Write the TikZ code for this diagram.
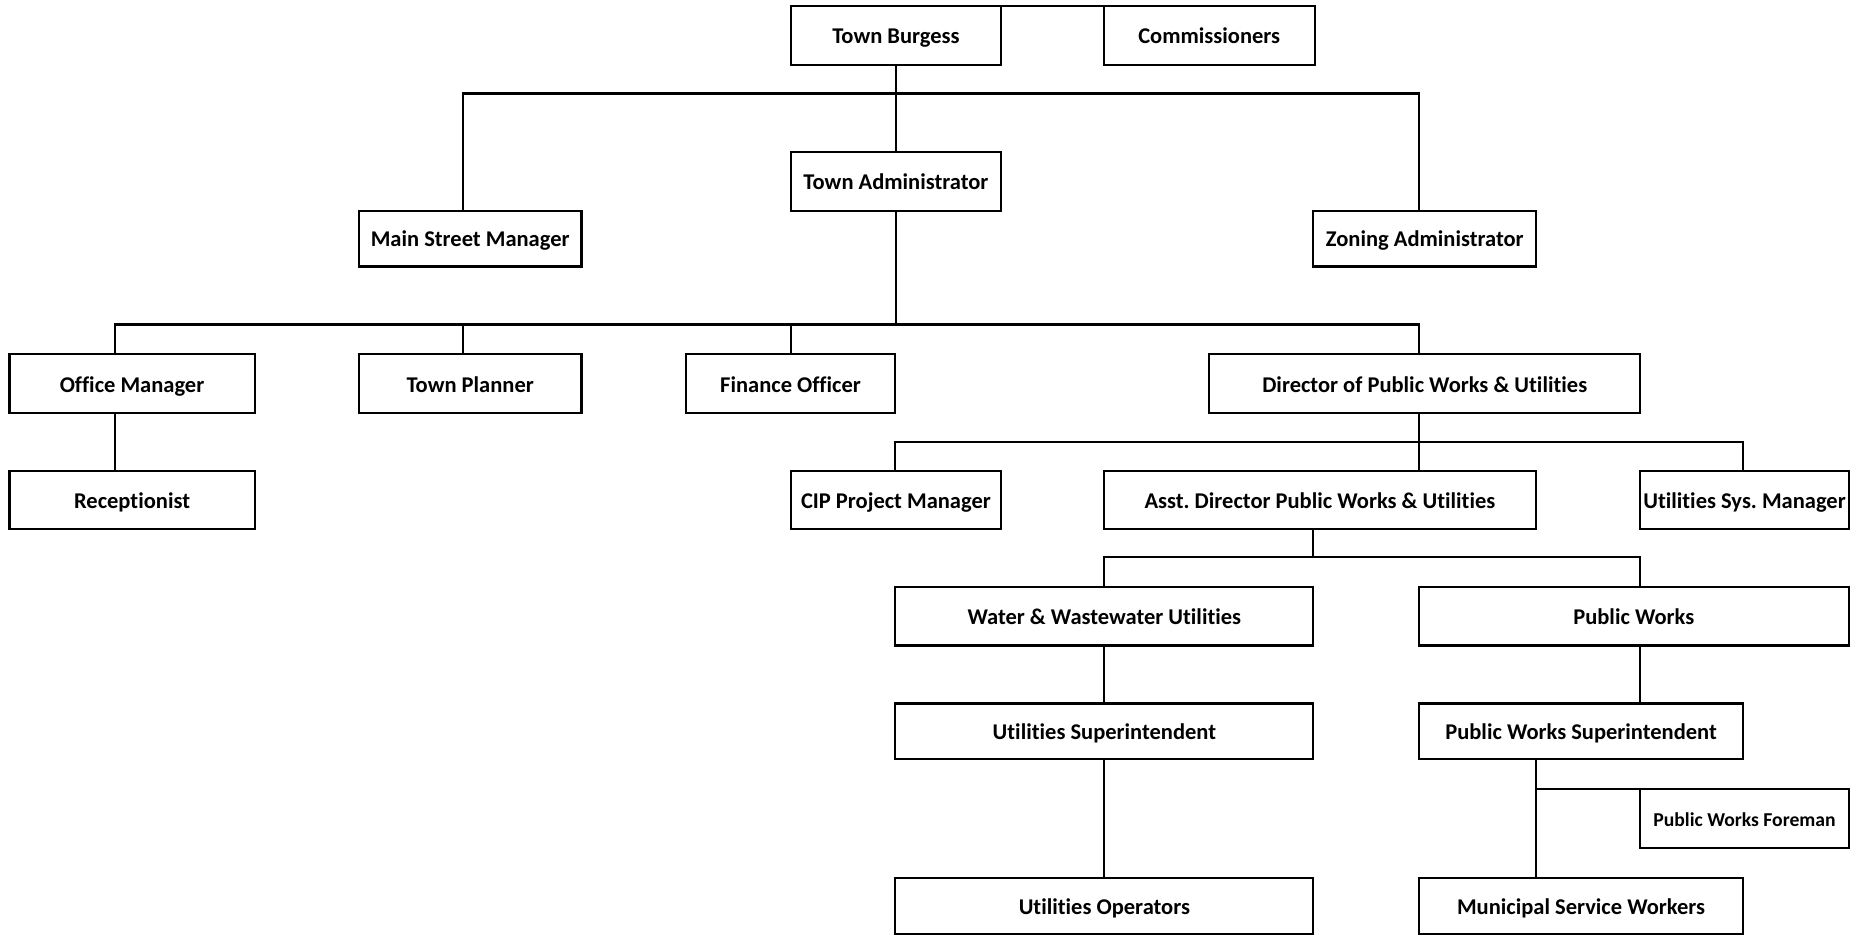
\documentclass[tikz,border=0pt]{standalone}
\usepackage{fontspec}
\setmainfont{Carlito}[Ligatures=NoCommon]
\usepackage{tikz}
\colorlet{rule}{black}
\frenchspacing

\begin{document}
\begin{tikzpicture}[x=0.5pt,y=-0.5pt,line width=0.9pt,line cap=rect,
  post/.style={draw=rule,inner sep=0pt,outer sep=0pt,minimum height=24.5pt,
    text height=8pt,text depth=1pt,
    font=\fontsize{9.5}{11}\selectfont\bfseries},
  low/.style={minimum height=23.5pt}]
\useasboundingbox (0,0) rectangle (1568,791);
% board
\node[post,minimum width=88.5pt,minimum height=25pt] (tb) at (756.5,30) {Town Burgess};
\node[post,minimum width=89pt,minimum height=25pt] (comm) at (1021,30) {Commissioners};
\node[post,minimum width=88.5pt,minimum height=25pt] (ta) at (756.5,153) {Town Administrator};
\node[post,low,minimum width=94pt] (msm) at (397,201.5) {Main Street Manager};
\node[post,low,minimum width=94pt] (za) at (1203,201.5) {Zoning Administrator};
% staff
\node[post,minimum width=103.5pt,minimum height=25pt] (om) at (111.5,324) {Office Manager};
\node[post,minimum width=94pt,minimum height=25pt] (tp) at (397,324) {Town Planner};
\node[post,minimum width=88.5pt,minimum height=25pt] (fo) at (667.5,324) {Finance Officer};
\node[post,minimum width=182pt,minimum height=25pt] (dir) at (1203,324) {Director of Public Works \& Utilities};
\node[post,minimum width=103.5pt] (rec) at (111.5,422.5) {Receptionist};
\node[post,minimum width=88.5pt] (cip) at (756.5,422.5) {CIP Project Manager};
\node[post,minimum width=182.5pt] (asst) at (1114.5,422.5) {Asst. Director Public Works \& Utilities};
\node[post,minimum width=88pt] (usm) at (1473,422.5) {Utilities Sys. Manager};
% public works
\node[post,minimum width=176.5pt] (wwu) at (932.5,520.5) {Water \& Wastewater Utilities};
\node[post,minimum width=181.5pt] (pw) at (1379.5,520.5) {Public Works};
\node[post,low,minimum width=176.5pt] (us) at (932.5,617.5) {Utilities Superintendent};
\node[post,low,minimum width=137pt] (pws) at (1335,617.5) {Public Works Superintendent};
\node[post,minimum width=88pt,minimum height=25pt,font=\fontsize{8.3}{10}\selectfont\bfseries] (pwf) at (1473,691) {Public Works Foreman};
\node[post,minimum width=176.5pt,minimum height=24pt] (uo) at (932.5,765) {Utilities Operators};
\node[post,minimum width=137pt,minimum height=24pt] (msw) at (1335,765) {Municipal Service Workers};

% junctions
\coordinate (j1) at (391,79);
\coordinate (j2) at (1198,79);
\coordinate (k1) at (97,274);
\coordinate (k2) at (391,274);
\coordinate (k3) at (668,274);
\coordinate (k4) at (1198,274);
\coordinate (m1) at (756,373);
\coordinate (m2) at (1198,373);
\coordinate (m3) at (1472,373);
\coordinate (n0) at (1109,470);
\coordinate (n1) at (932,470);
\coordinate (n2) at (1385,470);
\coordinate (p1) at (1297,666);

\draw (tb.north east) -- (comm.north west);
\draw (tb) -- (ta);
\draw (j1) -- (j2);
\draw (j1) -- (j1 |- msm.north);
\draw (j2) -- (j2 |- za.north);

\draw (ta.south) -- (ta.south |- k4);
\draw (k1) -- (k4);
\foreach \j/\n in {k1/om,k2/tp,k3/fo,k4/dir}
  \draw (\j) -- (\j |- \n.north);
\draw (k1 |- om.south) -- (k1 |- rec.north);

\draw (m2 |- dir.south) -- (m2 |- asst.north);
\draw (m1) -- (m3);
\draw (m1) -- (m1 |- cip.north);
\draw (m3) -- (m3 |- usm.north);

\draw (n0 |- asst.south) -- (n0);
\draw (n1) -- (n2);
\draw (n1) -- (n1 |- wwu.north);
\draw (n2) -- (n2 |- pw.north);
\draw (n1 |- wwu.south) -- (n1 |- us.north);
\draw (n1 |- us.south) -- (n1 |- uo.north);
\draw (n2 |- pw.south) -- (n2 |- pws.north);
\draw (p1 |- pws.south) -- (p1 |- msw.north);
\draw (p1) -- (pwf.west |- p1);

\end{tikzpicture}
\end{document}
